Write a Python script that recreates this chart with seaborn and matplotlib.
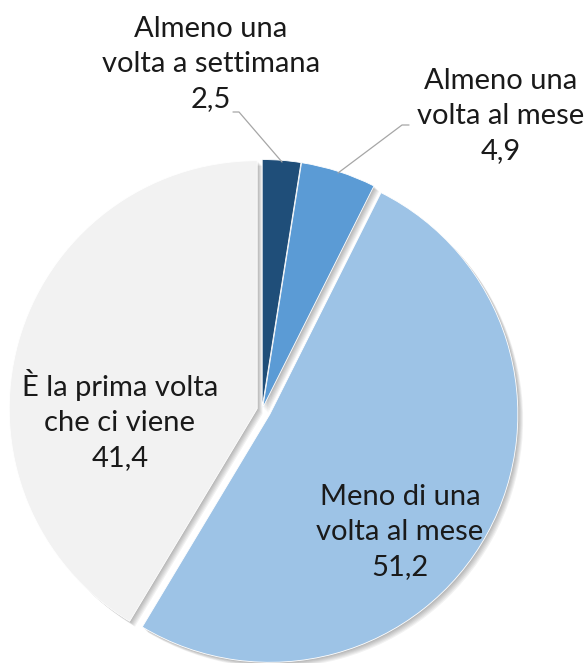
import matplotlib
matplotlib.use("Agg")
import matplotlib.pyplot as plt
import seaborn as sns

sns.set_theme(style="white")
plt.rcParams["font.family"] = ["Lato", "DejaVu Sans"]

categories = [
    "Almeno una\nvolta a settimana",
    "Almeno una\nvolta al mese",
    "Meno di una\nvolta al mese",
    "È la prima volta\nche ci viene",
]
values = [2.5, 4.9, 51.2, 41.4]
value_labels = ["2,5", "4,9", "51,2", "41,4"]
colors = ["#1F4E79", "#5B9BD5", "#9DC3E6", "#F2F2F2"]
explode = [0.01, 0.01, 0.036, 0.02]

W, H = 588, 663
CX, CY, R = 262, 410, 248


def px(x, y):
    return (x - CX) / R, (CY - y) / R


fig = plt.figure(figsize=(W / 100, H / 100), dpi=100)
ax = fig.add_axes([0, 0, 1, 1])

# soft drop shadow: stacked translucent grey pies shifted down-right
for k in range(6):
    d = 0.004 + 0.0035 * k
    ax.pie(values, startangle=90, counterclock=False, explode=explode,
           colors=["#000000"] * len(values), center=(d, -d), radius=1.0,
           wedgeprops=dict(alpha=0.05, linewidth=0))

ax.pie(values, startangle=90, counterclock=False, explode=explode,
       colors=colors, radius=1.0,
       wedgeprops=dict(edgecolor="white", linewidth=0.6))

ax.set_aspect("equal")
ax.set_xlim(-CX / R, (W - CX) / R)
ax.set_ylim(-(H - CY) / R, CY / R)
ax.axis("off")

font = dict(fontsize=21, color="#1a1a1a", ha="center", va="center",
            linespacing=1.42)

# label blocks (category + value)
label_pos = [(211, 64), (501, 116), (400, 532), (120, 420)]
for cat, val, (x, y) in zip(categories, value_labels, label_pos):
    ax.text(*px(x, y), f"{cat}\n{val}", **font)

# leader lines for the two small slices
lines = [
    [(233, 112), (239, 112), (282, 162)],
    [(409, 125), (402, 125), (338, 173)],
]
for pts in lines:
    xs, ys = zip(*[px(a, b) for a, b in pts])
    ax.plot(xs, ys, color="#a6a6a6", linewidth=0.9)

fig.savefig("out.png", dpi=100)
